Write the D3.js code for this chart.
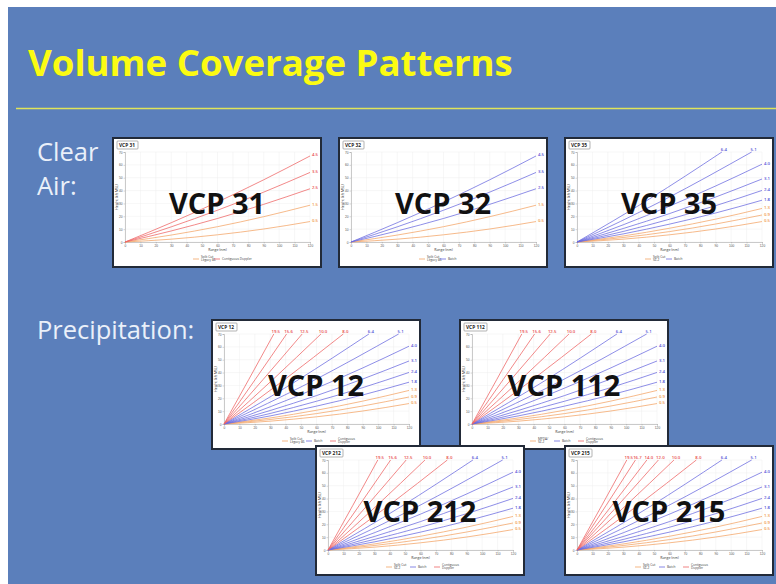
<!DOCTYPE html>
<html><head><meta charset="utf-8">
<script src="https://cdn.jsdelivr.net/npm/d3@7"></script>
<style>
html,body{margin:0;padding:0;background:#fff;}
svg{display:block;}
</style></head>
<body>
<svg id="slide" width="776" height="584"></svg>
<script>
// ---------------- data ----------------
const slideTitle = "Volume Coverage Patterns";
const groupLabels = ["Clear", "Air:", "Precipitation:"];

const rangeTicks = [0,10,20,30,40,50,60,70,80,90,100,110,120];
const heightTicks = [0,10,20,30,40,50,60,70];

// tilts whose beam centre reaches the right edge (120 nm)
const rangeSamples = [0, 30, 60, 90, 120];
const lowTilts = ["0.5","0.9","1.3","1.5","1.8","2.4","2.5","3.1","3.5","4.0","4.5"];
const lowTiltHeights = [
  [0, 2.2, 5.6, 10.1, 15.9],
  [0, 3.5, 8.1, 14.0, 21.0],
  [0, 4.7, 10.7, 17.8, 26.1],
  [0, 5.4, 11.9, 19.7, 28.6],
  [0, 6.3, 13.9, 22.6, 32.5],
  [0, 8.2, 17.7, 28.3, 40.1],
  [0, 8.6, 18.3, 29.3, 41.4],
  [0, 10.5, 22.1, 35.0, 49.0],
  [0, 11.8, 24.7, 38.8, 54.1],
  [0, 13.4, 27.9, 43.6, 60.5],
  [0, 15.0, 31.1, 48.4, 66.9]
];
// tilts whose beam centre reaches the top (70 kft) before 120 nm
const highTilts = ["5.1","6.4","8.0","10.0","12.0","12.5","14.0","15.6","16.7","19.5"];
const highTiltTopRange = [113.3, 94.0, 77.4, 62.9, 52.8, 50.7, 45.3, 40.6, 37.9, 32.3];
const highTiltMidHeight = [32.9, 33.5, 34.0, 34.3, 34.5, 34.6, 34.7, 34.7, 34.8, 34.8];

const chartNames = ["VCP 31","VCP 32","VCP 35","VCP 12","VCP 112","VCP 212","VCP 215"];
const splitTilts = [
  ["0.5","1.5"], ["0.5","1.5"], ["0.5","0.9","1.3"], ["0.5","0.9","1.3"],
  ["0.5","0.9","1.3"], ["0.5","0.9","1.3"], ["0.5","0.9","1.3"]
];
const batchTilts = [
  [], ["2.5","3.5","4.5"], ["1.8","2.4","3.1","4.0","5.1","6.4"],
  ["1.8","2.4","3.1","4.0","5.1","6.4"], ["1.8","2.4","3.1","4.0","5.1","6.4"],
  ["1.8","2.4","3.1","4.0","5.1","6.4"], ["1.8","2.4","3.1","4.0","5.1","6.4"]
];
const contiguousTilts = [
  ["2.5","3.5","4.5"], [], [],
  ["8.0","10.0","12.5","15.6","19.5"], ["8.0","10.0","12.5","15.6","19.5"],
  ["8.0","10.0","12.5","15.6","19.5"], ["8.0","10.0","12.0","14.0","16.7","19.5"]
];
const splitLegend = [
  ["Split Cut","Legacy 86"], ["Split Cut","Legacy 86"], ["Split Cut","SZ-2"],
  ["Split Cut","Legacy 86"], ["MPDA/","SZ-2"], ["Split Cut","SZ-2"], ["Split Cut","SZ-2"]
];
const batchLegend = ["Batch"];
const contiguousLegend = ["Contiguous","Doppler"];

// ---------------- layout / style ----------------
const W = 776, H = 584;
const chartPos = [[113,138],[339,138],[565,138],[212,320],[460,320],[316,446],[565,446]];
const CW = 208, CH = 129;
const colors = {split:"#f3a466", batch:"#6b6be0", contiguous:"#ee6464"};
const labelColors = {split:"#ef9545", batch:"#5252d6", contiguous:"#e84848"};

const svg = d3.select("#slide");
svg.append("rect").attr("x",8).attr("y",7).attr("width",W-8).attr("height",H-7).attr("fill","#5b7fbb");

svg.append("text").attr("x",28).attr("y",76)
  .attr("font-family","'Open Sans', sans-serif").attr("font-weight",700).attr("font-size",36.6)
  .attr("fill","#fbfb12").text(slideTitle);
svg.append("line").attr("x1",16).attr("x2",W).attr("y1",108.5).attr("y2",108.5)
  .attr("stroke","#e0e45a").attr("stroke-width",1.3);

const lbl = svg.append("g").attr("font-family","'Open Sans', sans-serif").attr("font-size",25.5).attr("fill","#eaf0f9");
lbl.append("text").attr("x",37).attr("y",161).text(groupLabels[0]);
lbl.append("text").attr("x",37).attr("y",195).text(groupLabels[1]);
lbl.append("text").attr("x",37).attr("y",339).text(groupLabels[2]);

const x = d3.scaleLinear().domain([0,120]).range([12,197]);
const y = d3.scaleLinear().domain([0,70]).range([104,14]);
const line = d3.line().x(d=>x(d[0])).y(d=>y(d[1])).curve(d3.curveMonotoneX);

function profile(t){
  const i = lowTilts.indexOf(t);
  if (i >= 0) return {pts: rangeSamples.map((r,k)=>[r, lowTiltHeights[i][k]]), top:false};
  const j = highTilts.indexOf(t);
  const r = highTiltTopRange[j];
  return {pts: [[0,0],[r/2, highTiltMidHeight[j]],[r,70]], top:true};
}

chartNames.forEach((name, ci) => {
  const g = svg.append("g").attr("transform",`translate(${chartPos[ci][0]},${chartPos[ci][1]})`)
    .attr("font-family","'Open Sans', Arial, sans-serif");
  g.append("rect").attr("x",0).attr("y",0).attr("width",CW).attr("height",CH)
    .attr("fill","#fff").attr("stroke","#222a38").attr("stroke-width",2);

  // grid
  g.append("g").selectAll("line.v").data(rangeTicks).join("line")
    .attr("x1",d=>x(d)).attr("x2",d=>x(d)).attr("y1",y(0)).attr("y2",y(70))
    .attr("stroke","#eeeeee").attr("stroke-width",0.5);
  g.append("g").selectAll("line.h").data(heightTicks).join("line")
    .attr("x1",x(0)).attr("x2",x(120)).attr("y1",d=>y(d)).attr("y2",d=>y(d))
    .attr("stroke","#eeeeee").attr("stroke-width",0.5);

  // axes
  const xa = g.append("g").attr("transform",`translate(0,${y(0)})`)
    .call(d3.axisBottom(x).tickValues(rangeTicks).tickSize(1.5).tickPadding(1));
  const ya = g.append("g").attr("transform",`translate(${x(0)},0)`)
    .call(d3.axisLeft(y).tickValues(heightTicks).tickSize(1.5).tickPadding(1));
  [xa,ya].forEach(a=>{
    a.select(".domain").attr("stroke","#999").attr("stroke-width",0.5);
    a.selectAll(".tick line").attr("stroke","#999").attr("stroke-width",0.4);
    a.selectAll(".tick text").attr("font-size",3.2).attr("fill","#555").attr("font-family","Arial, sans-serif");
  });
  g.append("text").attr("x",(x(0)+x(120))/2).attr("y",113).attr("text-anchor","middle")
    .attr("font-size",3.5).attr("fill","#333").text("Range (nm)");
  g.append("text").attr("transform",`translate(5,${(y(0)+y(70))/2}) rotate(-90)`).attr("text-anchor","middle")
    .attr("font-size",3.5).attr("fill","#333").text("Height (kft MSL)");

  // beams
  const groups = [["split",splitTilts[ci]],["batch",batchTilts[ci]],["contiguous",contiguousTilts[ci]]];
  groups.forEach(([grp,tilts]) => {
    tilts.forEach(t => {
      const p = profile(t);
      g.append("path").attr("d",line(p.pts)).attr("fill","none")
        .attr("stroke",colors[grp]).attr("stroke-width",0.9).attr("stroke-opacity",0.85);
      const end = p.pts[p.pts.length-1];
      const tx = p.top ? x(end[0])+2 : x(120)+5;
      const ty = p.top ? y(70)-1 : y(end[1])+0.5;
      g.append("text").attr("x",tx).attr("y",ty).attr("text-anchor","middle")
        .attr("font-size",4.3).attr("font-weight",600).attr("fill",labelColors[grp]).text(t);
    });
  });

  // legend
  const entries = [];
  if (splitTilts[ci].length) entries.push(["split", splitLegend[ci]]);
  if (batchTilts[ci].length) entries.push(["batch", batchLegend]);
  if (contiguousTilts[ci].length) entries.push(["contiguous", entries.length === 1 ? [contiguousLegend.join(" ")] : contiguousLegend]);
  const three = entries.length === 3;
  const startX = three ? 70 : 80;
  const step = three ? 24 : 21;
  entries.forEach(([grp, texts], k) => {
    const lx = startX + k*step;
    g.append("line").attr("x1",lx).attr("x2",lx+6).attr("y1",121).attr("y2",121)
      .attr("stroke",colors[grp]).attr("stroke-width",0.8);
    texts.forEach((tt, m) => {
      g.append("text").attr("x",lx+8).attr("y",texts.length===1 ? 122 : 119.5+m*3.6)
        .attr("font-size",3.2).attr("fill","#444").text(tt);
    });
  });

  // tab title
  g.append("rect").attr("x",4).attr("y",3).attr("width",name.length>6?23:21).attr("height",8)
    .attr("fill","#fff").attr("stroke","#666").attr("stroke-width",0.5).attr("rx",0.8);
  g.append("text").attr("x",6).attr("y",9).attr("font-size",4.8).attr("font-weight",700)
    .attr("fill","#222").text(name);

  // big overlay label
  g.append("text").attr("x",CW/2).attr("y",76).attr("text-anchor","middle")
    .attr("font-family","'Open Sans', sans-serif").attr("font-weight",700).attr("font-size",29)
    .attr("fill","#111").text(name);
});
</script>
</body></html>
